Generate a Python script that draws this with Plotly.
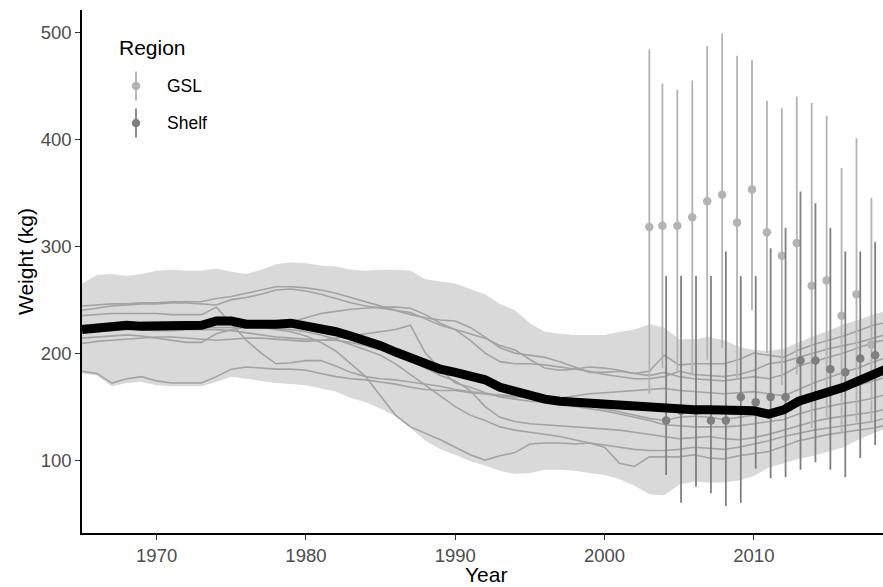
import plotly.graph_objects as go

# ---------------- data ----------------
YEARS = list(range(1965, 2020))

MEAN = [222, 224, 225, 226, 225, 225, 225, 225, 226, 230,
        230, 227, 226, 227, 228, 226, 223, 220, 216, 212,
        207, 201, 195, 189, 185, 182, 179, 175, 168, 164,
        161, 157, 155, 154, 153, 152, 151, 149, 149, 147,
        147, 147, 147, 147, 147, 146, 143, 147, 155, 159,
        164, 168, 174, 180, 186]

BAND_HIGH = [265, 273, 274, 272, 274, 277, 278, 277, 277, 279,
             276, 274, 278, 283, 285, 284, 282, 281, 278, 277,
             278, 278, 277, 269, 267, 265, 260, 255, 246, 240,
             228, 220, 218, 217, 217, 217, 220, 222, 227, 224,
             213, 213, 215, 212, 206, 203, 202, 204, 210, 216,
             221, 227, 231, 236, 240]

BAND_LOW = [181, 179, 169, 172, 173, 170, 169, 169, 169, 173,
            178, 176, 174, 172, 171, 170, 167, 164, 158, 154,
            148, 141, 130, 118, 110, 105, 99, 95, 90, 87,
            88, 91, 91, 90, 88, 86, 82, 76, 68, 67,
            77, 80, 79, 79, 81, 85, 93, 97, 101, 104,
            108, 112, 119, 125, 130]

LINE_1 = [244, 245, 246, 246, 247, 247, 248, 248, 248, 251,
          253, 256, 259, 262, 262, 261, 259, 256, 252, 248,
          244, 240, 236, 233, 231, 230, 224, 215, 205, 200,
          198, 196, 192, 187, 182, 182, 183, 181, 183, 198,
          189, 190, 190, 190, 194, 200, 198, 196, 203, 208,
          212, 216, 221, 226, 229]
LINE_2 = [240, 242, 244, 245, 246, 246, 247, 247, 246, 245,
          250, 252, 255, 259, 260, 258, 255, 251, 247, 244,
          242, 240, 238, 232, 226, 222, 218, 214, 207, 203,
          194, 186, 184, 185, 187, 186, 184, 181, 179, 182,
          178, 176, 175, 174, 176, 178, 176, 180, 188, 192,
          196, 200, 205, 210, 213]
LINE_3 = [235, 236, 237, 237, 237, 237, 236, 236, 236, 243,
          228, 212, 200, 190, 191, 193, 193, 188, 182, 178,
          176, 175, 173, 171, 169, 166, 164, 162, 160, 159,
          159, 157, 153, 150, 148, 146, 143, 140, 137, 133,
          132, 131, 131, 131, 132, 134, 136, 138, 143, 147,
          150, 153, 155, 158, 162]
LINE_4 = [214, 215, 216, 217, 216, 214, 212, 210, 210, 218,
          222, 224, 225, 227, 229, 233, 237, 239, 241, 242,
          243, 243, 242, 236, 228, 222, 212, 200, 192, 190,
          190, 189, 187, 185, 183, 180, 178, 176, 176, 178,
          183, 180, 179, 178, 180, 184, 190, 192, 196, 200,
          204, 207, 210, 214, 218]
LINE_5 = [209, 211, 212, 213, 214, 215, 215, 214, 213, 212,
          213, 214, 214, 213, 212, 211, 212, 214, 216, 218,
          220, 222, 226, 200, 185, 172, 168, 163, 159, 157,
          155, 154, 153, 151, 150, 148, 145, 142, 139, 137,
          140, 141, 140, 138, 140, 142, 146, 150, 155, 160,
          163, 166, 170, 174, 178]
LINE_6 = [226, 227, 228, 229, 229, 229, 229, 229, 229, 229,
          228, 226, 224, 222, 220, 216, 210, 202, 190, 178,
          160, 142, 131, 125, 119, 112, 105, 100, 104, 107,
          115, 116, 116, 115, 116, 112, 97, 94, 103, 103,
          103, 105, 102, 101, 104, 106, 108, 113, 118, 121,
          124, 126, 128, 130, 133]
LINE_7 = [220, 220, 221, 222, 222, 221, 221, 222, 222, 222,
          221, 219, 217, 215, 214, 213, 212, 212, 210, 207,
          203, 199, 193, 186, 179, 174, 165, 150, 140, 136,
          134, 133, 132, 131, 130, 129, 128, 126, 124, 122,
          120, 121, 122, 120, 119, 121, 124, 128, 132, 136,
          139, 141, 143, 145, 148]
LINE_8 = [221, 222, 223, 223, 223, 223, 223, 224, 224, 224,
          224, 224, 224, 223, 222, 220, 217, 213, 208, 203,
          198, 190, 180, 170, 160, 150, 142, 137, 131, 128,
          126, 124, 122, 119, 116, 114, 112, 110, 109, 109,
          110, 112, 111, 110, 112, 115, 118, 122, 125, 128,
          130, 132, 134, 136, 140]
LINE_9 = [183, 181, 172, 176, 178, 174, 172, 172, 172, 178,
          185, 187, 186, 185, 185, 184, 181, 178, 176, 175,
          173, 171, 168, 166, 165, 165, 163, 162, 161, 160,
          158, 157, 158, 160, 162, 163, 164, 165, 166, 167,
          165, 164, 163, 162, 163, 164, 162, 160, 166, 172,
          177, 182, 186, 192, 196]
THIN_LINES = [LINE_1, LINE_2, LINE_3, LINE_4, LINE_5, LINE_6, LINE_7, LINE_8, LINE_9]

GSL_YEARS = [2003, 2004, 2005, 2006, 2007, 2008, 2009, 2010, 2011,
             2012, 2013, 2014, 2015, 2016, 2017, 2018, 2019]
GSL_MEAN = [318, 319, 319, 327, 342, 348, 322, 353, 313,
            291, 303, 263, 268, 235, 255, 208, 243]
GSL_HIGH = [484, 452, 446, 455, 487, 499, 478, 474, 436,
            429, 440, 434, 422, 373, 401, 345, 378]
GSL_LOW = [162, 186, 182, 179, 194, 205, 175, 240, 200,
           170, 180, 130, 140, 125, 135, 135, 140]

SHELF_YEARS = [2004, 2005, 2006, 2007, 2008, 2009, 2010, 2011,
               2012, 2013, 2014, 2015, 2016, 2017, 2018]
SHELF_MEAN = [137, 146, 146, 137, 137, 159, 154, 159,
              159, 193, 193, 185, 182, 195, 198]
SHELF_HIGH = [272, 272, 272, 272, 295, 272, 272, 298,
              317, 351, 340, 317, 295, 295, 304]
SHELF_LOW = [86, 60, 75, 69, 57, 60, 92, 83,
             84, 91, 98, 91, 84, 102, 114]

X_TICKS = [1970, 1980, 1990, 2000, 2010]
Y_TICKS = [100, 200, 300, 400, 500]

# ---------------- styling ----------------
W, H = 883, 587
ML, MR, MT, MB = 82, 0, 10, 54
FONT = "Arial, Liberation Sans, sans-serif"
BAND_COLOR = "#d9d9d9"
THIN_COLOR = "#a3a3a3"
GSL_COLOR = "#b3b3b3"
SHELF_COLOR = "#7f7f7f"
DODGE = 0.125

fig = go.Figure()

fig.add_trace(go.Scatter(x=YEARS, y=BAND_LOW, mode="lines", line=dict(width=0),
                         hoverinfo="skip", showlegend=False))
fig.add_trace(go.Scatter(x=YEARS, y=BAND_HIGH, mode="lines", line=dict(width=0),
                         fill="tonexty", fillcolor=BAND_COLOR,
                         hoverinfo="skip", showlegend=False))

for s in THIN_LINES:
    fig.add_trace(go.Scatter(x=YEARS, y=s, mode="lines",
                             line=dict(color=THIN_COLOR, width=1.6),
                             showlegend=False))

gsl_x = [yr - DODGE if yr in SHELF_YEARS else yr for yr in GSL_YEARS]
fig.add_trace(go.Scatter(
    x=gsl_x, y=GSL_MEAN, mode="markers", name="GSL",
    marker=dict(color=GSL_COLOR, size=8.5),
    error_y=dict(type="data", symmetric=False,
                 array=[h - m for h, m in zip(GSL_HIGH, GSL_MEAN)],
                 arrayminus=[m - l for m, l in zip(GSL_MEAN, GSL_LOW)],
                 color=GSL_COLOR, thickness=1.8, width=0),
    showlegend=False))

shelf_x = [yr + DODGE if yr in GSL_YEARS else yr for yr in SHELF_YEARS]
fig.add_trace(go.Scatter(
    x=shelf_x, y=SHELF_MEAN, mode="markers", name="Shelf",
    marker=dict(color=SHELF_COLOR, size=8.5),
    error_y=dict(type="data", symmetric=False,
                 array=[h - m for h, m in zip(SHELF_HIGH, SHELF_MEAN)],
                 arrayminus=[m - l for m, l in zip(SHELF_MEAN, SHELF_LOW)],
                 color=SHELF_COLOR, thickness=1.8, width=0),
    showlegend=False))

fig.add_trace(go.Scatter(x=YEARS, y=MEAN, mode="lines",
                         line=dict(color="black", width=9),
                         showlegend=False))

PW, PH = W - ML - MR, H - MT - MB


def px_x(p):
    return (p - ML) / PW


def px_y(p):
    return (H - MB - p) / PH


axis_common = dict(showgrid=False, zeroline=False, showline=True,
                   linecolor="black", linewidth=1.6,
                   ticks="outside", ticklen=5, tickwidth=1.3, tickcolor="#333333",
                   tickfont=dict(family=FONT, size=18.5, color="#4d4d4d"))

fig.update_layout(
    width=W, height=H,
    margin=dict(l=ML, r=MR, t=MT, b=MB, pad=0),
    plot_bgcolor="white", paper_bgcolor="white",
    showlegend=False,
    xaxis=dict(range=[1965, 2018.65], tickvals=X_TICKS, **axis_common),
    yaxis=dict(range=[31.8, 520.8], tickvals=Y_TICKS, **axis_common),
    font=dict(family=FONT),
)

annotations = [
    dict(text="Year", x=px_x(486), y=px_y(587), xref="paper", yref="paper",
         xanchor="center", yanchor="bottom", showarrow=False, borderpad=0,
         font=dict(family=FONT, size=21, color="black")),
    dict(text="Weight (kg)", x=px_x(25), y=px_y(262), xref="paper", yref="paper",
         xanchor="center", yanchor="middle", showarrow=False, textangle=-90,
         font=dict(family=FONT, size=21, color="black")),
    dict(text="Region", x=px_x(117), y=px_y(47), xref="paper", yref="paper",
         xanchor="left", yanchor="middle", showarrow=False,
         font=dict(family=FONT, size=21, color="black")),
    dict(text="GSL", x=px_x(165), y=px_y(86), xref="paper", yref="paper",
         xanchor="left", yanchor="middle", showarrow=False,
         font=dict(family=FONT, size=17.5, color="black")),
    dict(text="Shelf", x=px_x(165), y=px_y(123), xref="paper", yref="paper",
         xanchor="left", yanchor="middle", showarrow=False,
         font=dict(family=FONT, size=17.5, color="black")),
]

shapes = []
for color, yc in ((GSL_COLOR, 86), (SHELF_COLOR, 123)):
    shapes.append(dict(type="line", xref="paper", yref="paper",
                       x0=px_x(136), x1=px_x(136), y0=px_y(yc - 14.5), y1=px_y(yc + 14.5),
                       line=dict(color=color, width=1.8)))
    shapes.append(dict(type="circle", xref="paper", yref="paper",
                       xsizemode="pixel", ysizemode="pixel",
                       xanchor=px_x(136), yanchor=px_y(yc),
                       x0=-4.25, x1=4.25, y0=-4.25, y1=4.25,
                       fillcolor=color, line=dict(width=0)))

fig.update_layout(annotations=annotations, shapes=shapes)

fig.write_html("out.html")
